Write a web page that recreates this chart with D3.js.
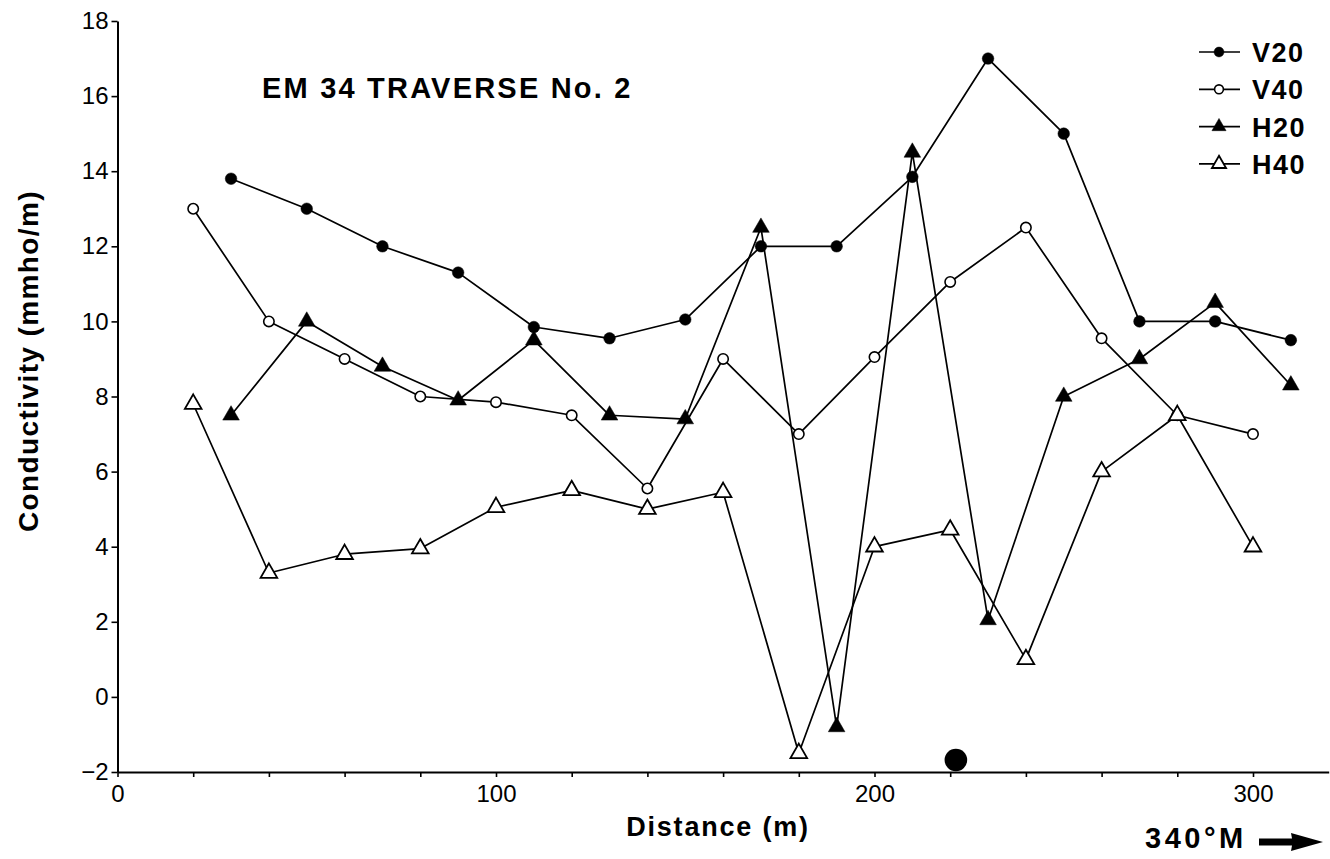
<!DOCTYPE html>
<html>
<head>
<meta charset="utf-8">
<script src="https://cdn.jsdelivr.net/npm/d3@7"></script>
<style>
  body { margin: 0; background: #fff; }
  text { font-family: "Liberation Sans", Arial, Helvetica, sans-serif; fill: #000; }
</style>
</head>
<body>
<script>
// distances (m) for each reading
const distOdd  = [30, 50, 70, 90, 110, 130, 150, 170, 190, 210, 230, 250, 270, 290, 310];
const distEven = [20, 40, 60, 80, 100, 120, 140, 160, 180, 200, 220, 240, 260, 280, 300];

// conductivity readings (mmho/m)
const v20 = [13.8, 13.0, 12.0, 11.3, 9.85, 9.55, 10.05, 12.0, 12.0, 13.85, 17.0, 15.0, 10.0, 10.0, 9.5];
const v40 = [13.0, 10.0, 9.0, 8.0, 7.85, 7.5, 5.55, 9.0, 7.0, 9.05, 11.05, 12.5, 9.55, 7.5, 7.0];
const h20 = [7.5, 10.0, 8.8, 7.9, 9.5, 7.5, 7.4, 12.5, -0.8, 14.5, 2.05, 8.0, 9.0, 10.5, 8.3];
const h40 = [7.8, 3.3, 3.8, 3.95, 5.05, 5.5, 5.0, 5.45, -1.5, 4.0, 4.45, 1.0, 6.0, 7.5, 4.0];

// station marker on the baseline
const markerPoint = [221.5, -1.68];

// axis ticks
const xTicks = [0, 20, 40, 60, 80, 100, 120, 140, 160, 180, 200, 220, 240, 260, 280, 300];
const xTickLabels = [0, 100, 200, 300];
const yTicks = [-2, 0, 2, 4, 6, 8, 10, 12, 14, 16, 18];

const seriesNames = ["V20", "V40", "H20", "H40"];

let width = 1330, height = 859;
let svg = null;
let x, y = null;

// Main Process
appendSvg("body");
setupXScale();
setupYScale();
appendXAxis();
appendYAxis();
appendSeriesLines();
appendSeriesMarkers();
appendLabels();
appendLegend();

function appendSvg(domElement) {
    svg = d3.select(domElement).append("svg")
            .attr("width", width)
            .attr("height", height);
}

function setupXScale() {
    x = d3.scaleLinear()
            .domain([0, 320])
            .range([117.5, 1328.7]);
}

function setupYScale() {
    y = d3.scaleLinear()
            .domain([-2, 18])
            .range([772, 21]);
}

function appendXAxis() {
    let g = svg.append("g")
        .attr("transform", `translate(0, ${y(-2)})`)
        .call(d3.axisBottom(x)
            .tickValues(xTicks)
            .tickSize(5)
            .tickSizeOuter(0)
            .tickPadding(8)
            .tickFormat(d => xTickLabels.includes(d) ? d : ""));
    styleAxis(g);
}

function appendYAxis() {
    let g = svg.append("g")
        .attr("transform", `translate(${x(0)}, 0)`)
        .call(d3.axisLeft(y)
            .tickValues(yTicks)
            .tickSize(6)
            .tickSizeOuter(0)
            .tickPadding(3));
    styleAxis(g);
}

function styleAxis(g) {
    g.select(".domain").attr("stroke", "#000").attr("stroke-width", 2);
    g.selectAll(".tick line").attr("stroke", "#000").attr("stroke-width", 1.6);
    g.selectAll(".tick text")
        .attr("font-size", 24)
        .attr("font-family", "Liberation Sans, Arial, sans-serif")
        .attr("fill", "#000");
}

function seriesData() {
    return [
        {name: seriesNames[0], pts: distOdd.map((d, i) => [d, v20[i]]), shape: "circle", filled: true},
        {name: seriesNames[1], pts: distEven.map((d, i) => [d, v40[i]]), shape: "circle", filled: false},
        {name: seriesNames[2], pts: distOdd.map((d, i) => [d, h20[i]]), shape: "triangle", filled: true},
        {name: seriesNames[3], pts: distEven.map((d, i) => [d, h40[i]]), shape: "triangle", filled: false}
    ];
}

function appendSeriesLines() {
    let line = d3.line().x(d => x(d[0])).y(d => y(d[1]));
    svg.append("g").selectAll("path")
        .data(seriesData())
        .enter().append("path")
        .attr("d", s => line(s.pts))
        .attr("fill", "none")
        .attr("stroke", "#000")
        .attr("stroke-width", 1.7)
        .attr("stroke-linejoin", "round");
}

// draw one marker shape into a selection of g's
function drawMarker(sel, s, scale) {
    if (s.shape === "circle") {
        sel.append("circle")
            .attr("r", (s.filled ? 5.8 : 5.2) * scale)
            .attr("fill", s.filled ? "#000" : "#fff")
            .attr("stroke", "#000")
            .attr("stroke-width", s.filled ? 0.5 : 1.6);
    } else {
        sel.append("path")
            .attr("d", d3.symbol().type(d3.symbolTriangle).size(120 * scale * scale)())
            .attr("fill", s.filled ? "#000" : "#fff")
            .attr("stroke", "#000")
            .attr("stroke-width", s.filled ? 0.5 : 1.8);
    }
}

function appendSeriesMarkers() {
    seriesData().forEach(s => {
        let g = svg.append("g").selectAll("g")
            .data(s.pts)
            .enter().append("g")
            .attr("transform", d => `translate(${x(d[0])}, ${y(d[1])})`);
        drawMarker(g, s, 1);
    });

    svg.append("circle")
        .attr("cx", x(markerPoint[0]))
        .attr("cy", y(markerPoint[1]))
        .attr("r", 11.3)
        .attr("fill", "#000");
}

function appendLabels() {
    svg.append("text")
        .attr("x", 262)
        .attr("y", 98)
        .attr("font-size", 29)
        .attr("font-weight", "bold")
        .attr("letter-spacing", 2.2)
        .text("EM 34 TRAVERSE No. 2");

    svg.append("text")
        .attr("x", 718)
        .attr("y", 836)
        .attr("text-anchor", "middle")
        .attr("font-size", 27)
        .attr("font-weight", "bold")
        .attr("letter-spacing", 1.8)
        .text("Distance (m)");

    svg.append("text")
        .attr("transform", "translate(38, 361) rotate(-90)")
        .attr("text-anchor", "middle")
        .attr("font-size", 28)
        .attr("font-weight", "bold")
        .attr("letter-spacing", 1.4)
        .text("Conductivity (mmho/m)");

    svg.append("text")
        .attr("x", 1145)
        .attr("y", 848)
        .attr("font-size", 29)
        .attr("font-weight", "bold")
        .attr("letter-spacing", 3.5)
        .text("340°M");

    // direction arrow
    svg.append("path")
        .attr("d", "M1259,838.5 L1292,838.5 L1291,833 L1323,842 L1291,851 L1292,845.5 L1259,845.5 Z")
        .attr("fill", "#000");
}

function appendLegend() {
    let rows = svg.append("g").selectAll("g")
        .data(seriesData())
        .enter().append("g")
        .attr("transform", (d, i) => `translate(1219, ${52 + i * 37.3})`);

    rows.append("line")
        .attr("x1", -20).attr("x2", 21)
        .attr("stroke", "#000")
        .attr("stroke-width", 1.7);

    rows.each(function(s) {
        drawMarker(d3.select(this), s, 0.85);
    });

    rows.append("text")
        .attr("x", 33)
        .attr("y", 10)
        .attr("font-size", 27)
        .attr("font-weight", "bold")
        .attr("letter-spacing", 1.5)
        .text(s => s.name);
}
</script>
</body>
</html>
